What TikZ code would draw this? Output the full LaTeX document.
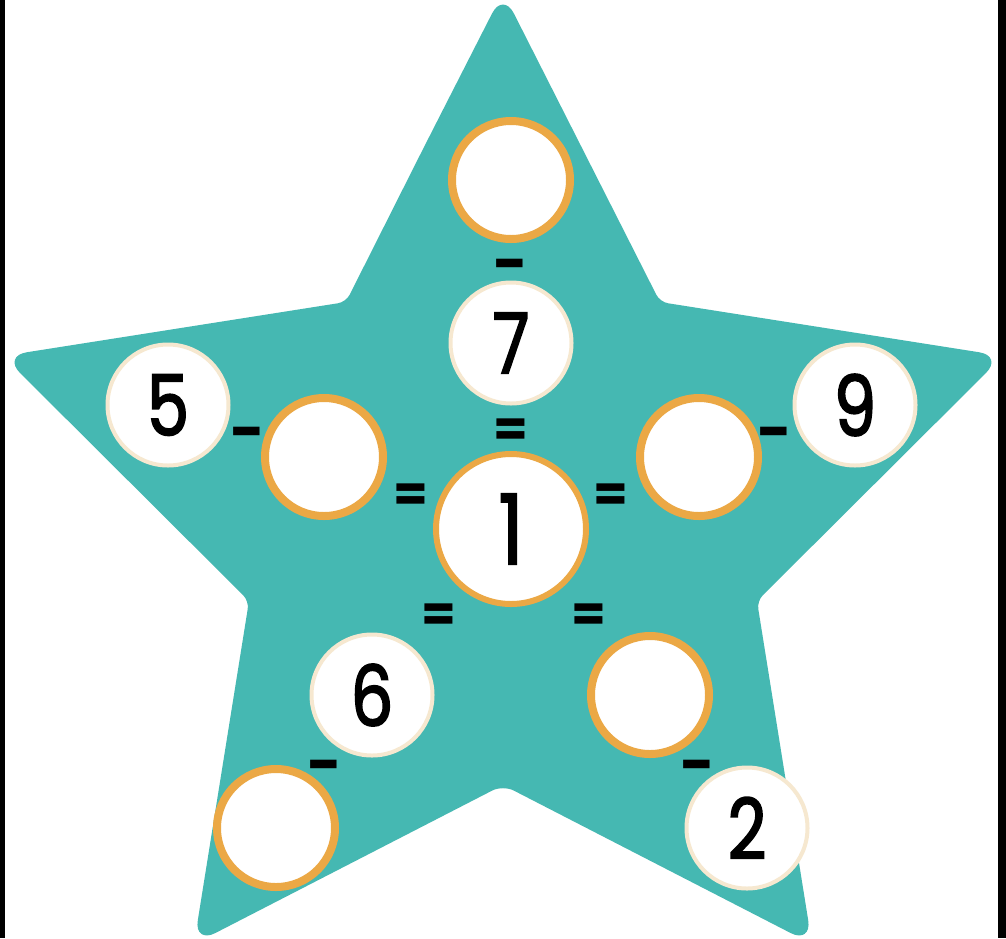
\documentclass[tikz,border=0pt]{standalone}
\usepackage{fontspec}
\setmainfont{Poppins}
\newfontfamily\numfont[FakeBold=2,FakeStretch=0.8]{Poppins}
\definecolor{starteal}{RGB}{69,184,178}
\definecolor{ringorange}{RGB}{235,168,69}
\definecolor{ringcream}{RGB}{246,232,208}

\begin{document}
\begin{tikzpicture}[
  x=1pt,y=-1pt,
  given/.style={circle,draw=ringcream,line width=4pt,fill=white,inner sep=0pt,
                minimum size=121pt,font=\numfont\fontsize{84}{84}\selectfont},
  blank/.style={circle,draw=ringorange,line width=8pt,fill=white,inner sep=0pt,
                minimum size=118pt},
  hub/.style={blank,line width=6pt,minimum size=150pt,font=\numfont\fontsize{97}{97}\selectfont},
  minus/.style={inner sep=0pt,yshift=-10pt,font=\bfseries\fontsize{60}{60}\selectfont},
  equals/.style={inner sep=0pt,yshift=-4pt,font=\bfseries\fontsize{50}{50}\selectfont}
]
\useasboundingbox (0,0) rectangle (1006,938);
\fill[white] (0,0) rectangle (1006,938);
% the star
\fill[starteal,rounded corners=24pt] (424,147) -- (503,-8)
  [rounded corners=8pt] -- (660,302) [rounded corners=24pt] -- (1003,356)
  [rounded corners=8pt] -- (757,601) [rounded corners=24pt] -- (812,944)
  [rounded corners=12pt] -- (503,785) [rounded corners=24pt] -- (194,944)
  [rounded corners=8pt] -- (249,601) [rounded corners=24pt] -- (3,356)
  [rounded corners=8pt] -- (346,302) [rounded corners=24pt] -- cycle;
\fill (0,0) rectangle (5,938);
\fill (998,0) rectangle (1006,938);

% circles
\node[blank] (top) at (511,180) {};
\node[given] (seven) at (511,343) {7};
\node[hub] (one) at (511,529) {1};
\node[given] (five) at (168,405) {5};
\node[blank] (left) at (324,457) {};
\node[blank] (right) at (699,457) {};
\node[given] (nine) at (855,405) {9};
\node[given] (six) at (372,695) {6};
\node[blank] (lowleft) at (276,828) {};
\node[blank] (lowright) at (650,695) {};
\node[given] (two) at (747,828) {2};

% signs
\node[minus] (mtop) at (511,262) {-};
\node[minus] (mleft) at (248,430) {-};
\node[minus] (mright) at (775,430) {-};
\node[minus] (mlowleft) at (325,763) {-};
\node[minus] (mlowright) at (698,763) {-};
\node[equals] (etop) at (511,429) {=};
\node[equals] (eleft) at (411,494) {=};
\node[equals] (eright) at (611,494) {=};
\node[equals] (elowleft) at (439,614) {=};
\node[equals] (elowright) at (589,614) {=};
\end{tikzpicture}
\end{document}
